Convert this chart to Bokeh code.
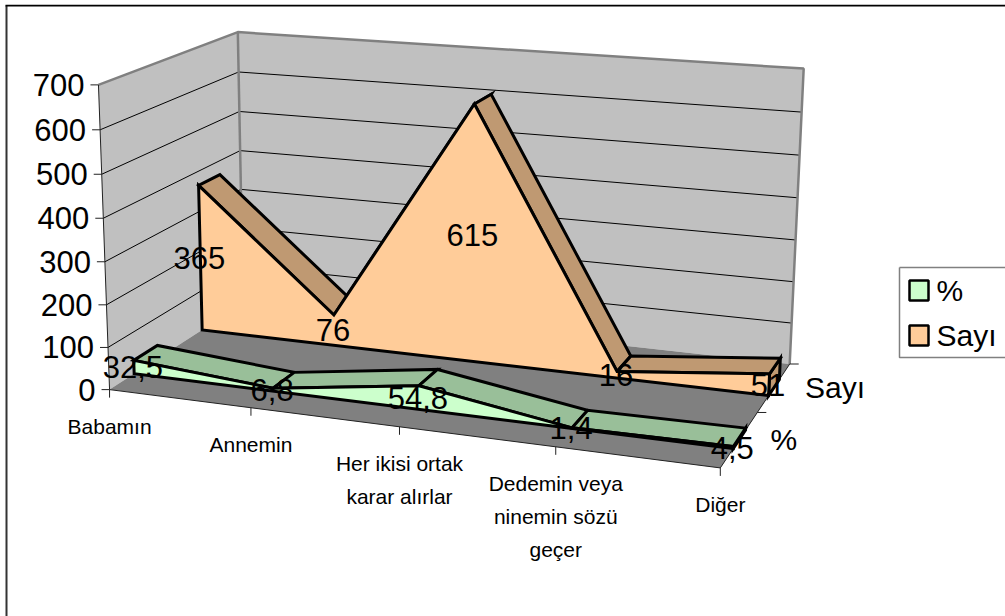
import numpy as np
from bokeh.plotting import figure
from bokeh.models import Range1d
from bokeh.core.properties import value
from bokeh.embed import file_html
from bokeh.resources import INLINE

categories = ["Babamın", "Annemin", "Her ikisi ortak\nkarar alırlar", "Dedemin veya\nninemin sözü\ngeçer", "Diğer"]
sayi_values = [365, 76, 615, 16, 51]
yuzde_values = [32.5, 6.8, 54.8, 1.4, 4.5]
yuzde_labels = ["32,5", "6,8", "54,8", "1,4", "4,5"]
sayi_labels = ["365", "76", "615", "16", "51"]
y_ticks = [0, 100, 200, 300, 400, 500, 600, 700]
series_names = ["%", "Sayı"]
Y_MAX = 700.0
FONT = value("Liberation Sans")

# camera calibration: (u, w, v) in the unit box -> screen px, solved as a projective camera
anchors = [
    ((0, 0, 0), (110, 389)), ((1, 0, 0), (720, 467)), ((1, 1, 0), (790, 363)), ((0, 1, 0), (245, 304)),
    ((0, 0, 1), (97, 83)), ((0, 1, 1), (237, 32)), ((1, 1, 1), (802, 68)),
    ((0, 2/3, 365/700), (197, 187)), ((0, 5/6, 365/700), (222, 174)),
    ((.25, 2/3, 76/700), (333, 316)), ((.25, 5/6, 76/700), (347, 293)),
    ((.5, 2/3, 615/700), (472, 105)), ((.5, 5/6, 615/700), (495, 93)),
    ((.75, 2/3, 16/700), (615, 373)), ((.75, 5/6, 16/700), (632, 354)),
    ((1, 2/3, 51/700), (767, 375)), ((1, 5/6, 51/700), (782, 357)),
    ((0, 2/3, 0), (200, 332)), ((1, 2/3, 0), (767, 397)),
    ((.25, 0, 0), (251, 407)), ((.5, 0, 0), (400, 427)), ((.75, 0, 0), (556, 445)),
]
rows = []
for (X, Y, Z), (sx, sy) in anchors:
    sx, sy = sx / 1000, sy / 1000
    rows.append([X, Y, Z, 1, 0, 0, 0, 0, -sx * X, -sx * Y, -sx * Z, -sx])
    rows.append([0, 0, 0, 0, X, Y, Z, 1, -sy * X, -sy * Y, -sy * Z, -sy])
CAM = np.linalg.svd(np.array(rows, float))[2][-1].reshape(3, 4)


def proj(u, w, val):
    h = CAM @ np.array([u, w, val / Y_MAX, 1.0])
    return h[0] / h[2] * 1000, h[1] / h[2] * 1000


def poly(*pts):
    return [p[0] for p in pts], [p[1] for p in pts]


p = figure(width=1001, height=612, x_range=Range1d(4, 1005), y_range=Range1d(616, 4),
           output_backend="svg", toolbar_location=None, min_border=0, outline_line_color=None,
           background_fill_color="white", margin=(4, 0, 0, 4))
p.axis.visible = False
p.grid.visible = False

# chart frame
p.line([6, 6], [5, 616], line_color="#333333", line_width=2)
p.line([5, 1005], [5, 5], line_color="black", line_width=2)

# walls and floor
WALL, FLOOR, EDGE = "#C0C0C0", "#808080", "#808080"
xs, ys = poly(proj(0, 0, 0), proj(0, 1, 0), proj(0, 1, Y_MAX), proj(0, 0, Y_MAX))
p.patch(xs, ys, fill_color=WALL, line_color=None)
xs, ys = poly(proj(0, 1, 0), proj(1, 1, 0), proj(1, 1, Y_MAX), proj(0, 1, Y_MAX))
p.patch(xs, ys, fill_color=WALL, line_color=None)
xs, ys = poly(proj(0, 0, 0), proj(1, 0, 0), proj(1, 1, 0), proj(0, 1, 0))
p.patch(xs, ys, fill_color=FLOOR, line_color=None)

# gridlines
for t in y_ticks[1:-1]:
    xs, ys = poly(proj(0, 0, t), proj(0, 1, t), proj(1, 1, t))
    p.line(xs, ys, line_color="black", line_width=1)

# wall edges
xs, ys = poly(proj(0, 0, Y_MAX), proj(0, 1, Y_MAX), proj(1, 1, Y_MAX), proj(1, 1, 0))
p.line(xs, ys, line_color=EDGE, line_width=2.5)
xs, ys = poly(proj(0, 1, Y_MAX), proj(0, 1, 0))
p.line(xs, ys, line_color=EDGE, line_width=2.5)

# axis lines
AX = "#222222"
xs, ys = poly(proj(0, 0, Y_MAX), proj(0, 0, 0), proj(1, 0, 0), proj(1, 1, 0))
p.line(xs, ys, line_color=AX, line_width=1)

# value axis
for t in y_ticks:
    x, y = proj(0, 0, t)
    p.line([x - 8, x], [y, y], line_color=AX, line_width=1)
    p.text([x - 14], [y], text=[str(t)], text_font=FONT, text_font_size=value("31px"),
           text_align="right", text_baseline="middle", text_color="black")

# category axis
for i, c in enumerate(categories):
    x, y = proj(i / 4, 0, 0)
    p.line([x, x], [y, y + 8], line_color=AX, line_width=1)
    for k, line in enumerate(c.split("\n")):
        p.text([x], [y + 37 + 33 * k], text=[line], text_font=FONT, text_font_size=value("21px"),
               text_align="center", text_baseline="middle", text_color="black")

# series axis
for w in (0.5, 1):
    x, y = proj(1, w, 0)
    p.line([x, x + 9], [y, y], line_color=AX, line_width=1)
for w, name in zip((0.25, 0.75), series_names):
    x, y = proj(1, w, 0)
    p.text([x + 31], [y], text=[name], text_font=FONT, text_font_size=value("30px"),
           text_align="left", text_baseline="middle", text_color="black")


def area(vals, wf, wb, front, top):
    n = len(vals)
    us = [i / (n - 1) for i in range(n)]
    style = dict(line_color="black", line_width=3, line_join="miter")
    xs, ys = poly(proj(1, wf, 0), proj(1, wb, 0), proj(1, wb, vals[-1]), proj(1, wf, vals[-1]))
    p.patch(xs, ys, fill_color=top, **style)
    for i in range(n - 1):
        xs, ys = poly(proj(us[i], wf, vals[i]), proj(us[i + 1], wf, vals[i + 1]),
                      proj(us[i + 1], wb, vals[i + 1]), proj(us[i], wb, vals[i]))
        p.patch(xs, ys, fill_color=top, **style)
    pts = [proj(0, wf, 0)] + [proj(u, wf, v) for u, v in zip(us, vals)] + [proj(1, wf, 0)]
    xs, ys = poly(*pts)
    p.patch(xs, ys, fill_color=front, **style)


def labels(vals, texts, wf):
    n = len(vals)
    for i, (v, t) in enumerate(zip(vals, texts)):
        x, y = proj(i / (n - 1), wf, v / 2)
        p.text([x - 1], [y], text=[t], text_font=FONT, text_font_size=value("31px"),
               text_align="center", text_baseline="middle", text_color="black")


ORANGE, BROWN = "#FFCC99", "#BF9972"
GREEN, DGREEN = "#CCFFCC", "#99BF99"
area(sayi_values, 2 / 3, 5 / 6, ORANGE, BROWN)
area(yuzde_values, 1 / 6, 1 / 3, GREEN, DGREEN)
labels(sayi_values, sayi_labels, 2 / 3)
labels(yuzde_values, yuzde_labels, 1 / 6)

# legend
p.line([899, 899, 1005], [267, 357, 357], line_color="#808080", line_width=1.5)
p.line([899, 1005], [267, 267], line_color="#808080", line_width=1.5)
for name, col, cy in zip(series_names, (GREEN, ORANGE), (290, 335)):
    p.quad(left=[909], right=[928], top=[cy - 10], bottom=[cy + 10], fill_color=col,
           line_color="black", line_width=2.5)
    p.text([936], [cy], text=[name], text_font=FONT, text_font_size=value("30px"),
           text_align="left", text_baseline="middle", text_color="black")

open("out.html", "w").write(file_html(p, INLINE))
